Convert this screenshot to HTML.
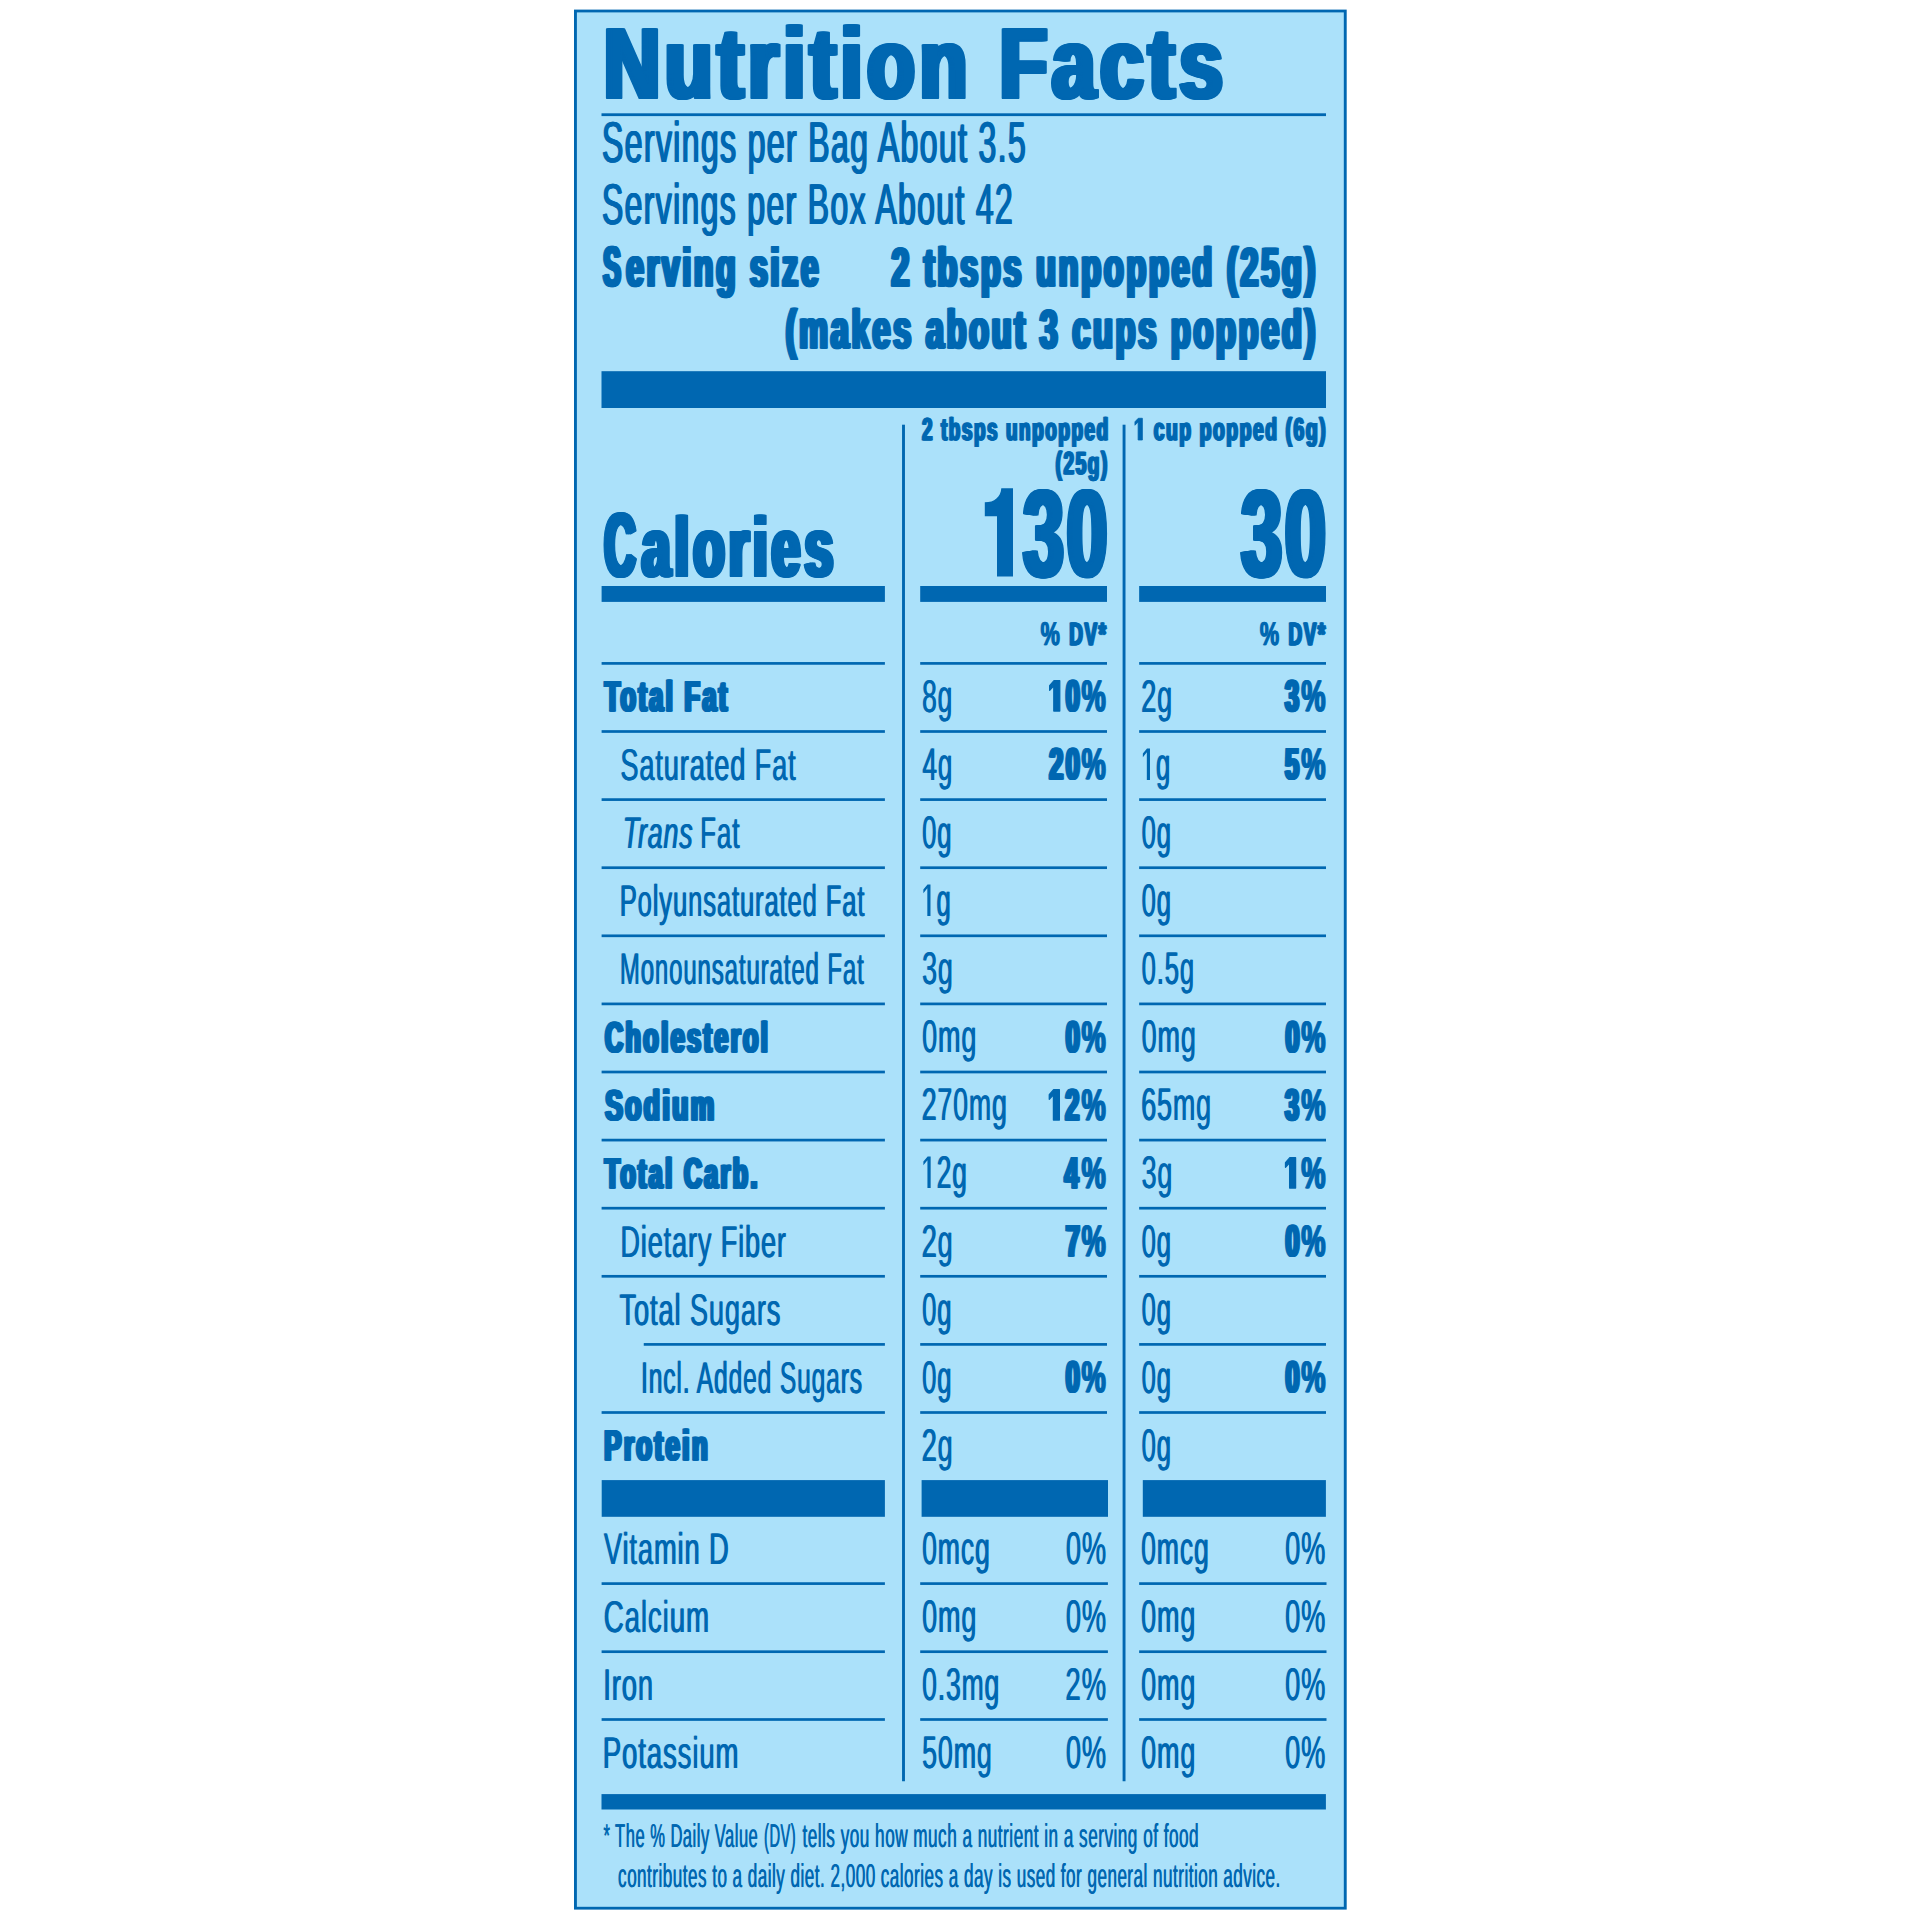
<!DOCTYPE html>
<html><head><meta charset="utf-8"><title>Nutrition Facts</title>
<style>
html,body{margin:0;padding:0;background:#fff;}
body{width:1920px;height:1920px;overflow:hidden;}
svg{display:block;}
text{font-family:"Liberation Sans",sans-serif;fill:#0067b1;white-space:pre;}
</style></head><body>
<svg width="1920" height="1920" viewBox="0 0 1920 1920" text-rendering="geometricPrecision">
<rect x="574.00" y="9.60" width="772.70" height="1900.00" fill="#0067b1"/>
<rect x="576.90" y="12.40" width="766.90" height="1894.40" fill="#abe1fa"/>
<rect x="601.50" y="113.30" width="724.50" height="2.80" fill="#0067b1"/>
<rect x="601.50" y="371.20" width="724.50" height="36.80" fill="#0067b1"/>
<rect x="601.60" y="586.00" width="283.30" height="15.90" fill="#0067b1"/>
<rect x="920.20" y="586.00" width="186.80" height="15.90" fill="#0067b1"/>
<rect x="1139.15" y="586.00" width="186.85" height="15.90" fill="#0067b1"/>
<rect x="601.70" y="1480.10" width="283.20" height="36.70" fill="#0067b1"/>
<rect x="921.60" y="1480.10" width="186.40" height="36.70" fill="#0067b1"/>
<rect x="1142.80" y="1480.10" width="183.10" height="36.70" fill="#0067b1"/>
<rect x="601.50" y="1794.10" width="724.40" height="15.40" fill="#0067b1"/>
<rect x="902.05" y="424.70" width="2.90" height="1356.55" fill="#0067b1"/>
<rect x="1122.60" y="424.70" width="2.90" height="1356.55" fill="#0067b1"/>
<rect x="601.60" y="662.05" width="283.30" height="2.70" fill="#0067b1"/>
<rect x="920.20" y="662.05" width="186.80" height="2.70" fill="#0067b1"/>
<rect x="1139.15" y="662.05" width="186.85" height="2.70" fill="#0067b1"/>
<rect x="601.60" y="730.15" width="283.30" height="2.70" fill="#0067b1"/>
<rect x="920.20" y="730.15" width="186.80" height="2.70" fill="#0067b1"/>
<rect x="1139.15" y="730.15" width="186.85" height="2.70" fill="#0067b1"/>
<rect x="601.60" y="798.25" width="283.30" height="2.70" fill="#0067b1"/>
<rect x="920.20" y="798.25" width="186.80" height="2.70" fill="#0067b1"/>
<rect x="1139.15" y="798.25" width="186.85" height="2.70" fill="#0067b1"/>
<rect x="601.60" y="866.35" width="283.30" height="2.70" fill="#0067b1"/>
<rect x="920.20" y="866.35" width="186.80" height="2.70" fill="#0067b1"/>
<rect x="1139.15" y="866.35" width="186.85" height="2.70" fill="#0067b1"/>
<rect x="601.60" y="934.45" width="283.30" height="2.70" fill="#0067b1"/>
<rect x="920.20" y="934.45" width="186.80" height="2.70" fill="#0067b1"/>
<rect x="1139.15" y="934.45" width="186.85" height="2.70" fill="#0067b1"/>
<rect x="601.60" y="1002.55" width="283.30" height="2.70" fill="#0067b1"/>
<rect x="920.20" y="1002.55" width="186.80" height="2.70" fill="#0067b1"/>
<rect x="1139.15" y="1002.55" width="186.85" height="2.70" fill="#0067b1"/>
<rect x="601.60" y="1070.65" width="283.30" height="2.70" fill="#0067b1"/>
<rect x="920.20" y="1070.65" width="186.80" height="2.70" fill="#0067b1"/>
<rect x="1139.15" y="1070.65" width="186.85" height="2.70" fill="#0067b1"/>
<rect x="601.60" y="1138.75" width="283.30" height="2.70" fill="#0067b1"/>
<rect x="920.20" y="1138.75" width="186.80" height="2.70" fill="#0067b1"/>
<rect x="1139.15" y="1138.75" width="186.85" height="2.70" fill="#0067b1"/>
<rect x="601.60" y="1206.85" width="283.30" height="2.70" fill="#0067b1"/>
<rect x="920.20" y="1206.85" width="186.80" height="2.70" fill="#0067b1"/>
<rect x="1139.15" y="1206.85" width="186.85" height="2.70" fill="#0067b1"/>
<rect x="601.60" y="1274.95" width="283.30" height="2.70" fill="#0067b1"/>
<rect x="920.20" y="1274.95" width="186.80" height="2.70" fill="#0067b1"/>
<rect x="1139.15" y="1274.95" width="186.85" height="2.70" fill="#0067b1"/>
<rect x="643.75" y="1343.05" width="241.15" height="2.70" fill="#0067b1"/>
<rect x="920.20" y="1343.05" width="186.80" height="2.70" fill="#0067b1"/>
<rect x="1139.15" y="1343.05" width="186.85" height="2.70" fill="#0067b1"/>
<rect x="601.60" y="1411.15" width="283.30" height="2.70" fill="#0067b1"/>
<rect x="920.20" y="1411.15" width="186.80" height="2.70" fill="#0067b1"/>
<rect x="1139.15" y="1411.15" width="186.85" height="2.70" fill="#0067b1"/>
<rect x="601.60" y="1582.25" width="283.30" height="2.70" fill="#0067b1"/>
<rect x="920.20" y="1582.25" width="187.70" height="2.70" fill="#0067b1"/>
<rect x="1139.15" y="1582.25" width="187.35" height="2.70" fill="#0067b1"/>
<rect x="601.60" y="1650.35" width="283.30" height="2.70" fill="#0067b1"/>
<rect x="920.20" y="1650.35" width="187.70" height="2.70" fill="#0067b1"/>
<rect x="1139.15" y="1650.35" width="187.35" height="2.70" fill="#0067b1"/>
<rect x="601.60" y="1718.15" width="283.30" height="2.70" fill="#0067b1"/>
<rect x="920.20" y="1718.15" width="187.70" height="2.70" fill="#0067b1"/>
<rect x="1139.15" y="1718.15" width="187.35" height="2.70" fill="#0067b1"/>
<path fill="#0067b1" d="M1001.3,488.2 L1013,488.2 L1013,576.6 L997,576.6 L997,516.3 L984.8,516.3 L984.8,502.3 C994.5,502.3 1000.6,497 1001.3,488.2 Z"/>
<text transform="translate(601.53,98) scale(0.7759,1)" font-size="99.98" font-weight="bold" letter-spacing="6.444" stroke="#0067b1" stroke-width="2.0" stroke-linejoin="round">Nutrition</text>
<text transform="translate(602.53,98) scale(0.7759,1)" font-size="99.98" font-weight="bold" letter-spacing="6.444" stroke="#0067b1" stroke-width="2.0" stroke-linejoin="round">Nutrition</text>
<text transform="translate(603.53,98) scale(0.7759,1)" font-size="99.98" font-weight="bold" letter-spacing="6.444" stroke="#0067b1" stroke-width="2.0" stroke-linejoin="round">Nutrition</text>
<text transform="translate(604.53,98) scale(0.7759,1)" font-size="99.98" font-weight="bold" letter-spacing="6.444" stroke="#0067b1" stroke-width="2.0" stroke-linejoin="round">Nutrition</text>
<text transform="translate(605.53,98) scale(0.7759,1)" font-size="99.98" font-weight="bold" letter-spacing="6.444" stroke="#0067b1" stroke-width="2.0" stroke-linejoin="round">Nutrition</text>
<text transform="translate(606.53,98) scale(0.7759,1)" font-size="99.98" font-weight="bold" letter-spacing="6.444" stroke="#0067b1" stroke-width="2.0" stroke-linejoin="round">Nutrition</text>
<text transform="translate(997.17,98) scale(0.7770,1)" font-size="99.98" font-weight="bold" letter-spacing="6.435" stroke="#0067b1" stroke-width="2.0" stroke-linejoin="round">Facts</text>
<text transform="translate(998.17,98) scale(0.7770,1)" font-size="99.98" font-weight="bold" letter-spacing="6.435" stroke="#0067b1" stroke-width="2.0" stroke-linejoin="round">Facts</text>
<text transform="translate(999.17,98) scale(0.7770,1)" font-size="99.98" font-weight="bold" letter-spacing="6.435" stroke="#0067b1" stroke-width="2.0" stroke-linejoin="round">Facts</text>
<text transform="translate(1000.17,98) scale(0.7770,1)" font-size="99.98" font-weight="bold" letter-spacing="6.435" stroke="#0067b1" stroke-width="2.0" stroke-linejoin="round">Facts</text>
<text transform="translate(1001.17,98) scale(0.7770,1)" font-size="99.98" font-weight="bold" letter-spacing="6.435" stroke="#0067b1" stroke-width="2.0" stroke-linejoin="round">Facts</text>
<text transform="translate(1002.17,98) scale(0.7770,1)" font-size="99.98" font-weight="bold" letter-spacing="6.435" stroke="#0067b1" stroke-width="2.0" stroke-linejoin="round">Facts</text>
<text transform="translate(601.25,162) scale(0.5595,1)" font-size="57.46" font-weight="normal" letter-spacing="2.323" stroke="#0067b1" stroke-width="0.2" stroke-linejoin="round">Servings per Bag About 3.5</text>
<text transform="translate(601.90,162) scale(0.5595,1)" font-size="57.46" font-weight="normal" letter-spacing="2.323" stroke="#0067b1" stroke-width="0.2" stroke-linejoin="round">Servings per Bag About 3.5</text>
<text transform="translate(602.55,162) scale(0.5595,1)" font-size="57.46" font-weight="normal" letter-spacing="2.323" stroke="#0067b1" stroke-width="0.2" stroke-linejoin="round">Servings per Bag About 3.5</text>
<text transform="translate(601.25,224) scale(0.5581,1)" font-size="57.46" font-weight="normal" letter-spacing="2.329" stroke="#0067b1" stroke-width="0.2" stroke-linejoin="round">Servings per Box About 42</text>
<text transform="translate(601.90,224) scale(0.5581,1)" font-size="57.46" font-weight="normal" letter-spacing="2.329" stroke="#0067b1" stroke-width="0.2" stroke-linejoin="round">Servings per Box About 42</text>
<text transform="translate(602.55,224) scale(0.5581,1)" font-size="57.46" font-weight="normal" letter-spacing="2.329" stroke="#0067b1" stroke-width="0.2" stroke-linejoin="round">Servings per Box About 42</text>
<text transform="translate(601.81,286) scale(0.4677,1)" font-size="56.60" font-weight="bold" letter-spacing="5.987" stroke="#0067b1" stroke-width="1.4" stroke-linejoin="round">S</text>
<text transform="translate(602.75,286) scale(0.4677,1)" font-size="56.60" font-weight="bold" letter-spacing="5.987" stroke="#0067b1" stroke-width="1.4" stroke-linejoin="round">S</text>
<text transform="translate(603.68,286) scale(0.4677,1)" font-size="56.60" font-weight="bold" letter-spacing="5.987" stroke="#0067b1" stroke-width="1.4" stroke-linejoin="round">S</text>
<text transform="translate(604.61,286) scale(0.4677,1)" font-size="56.60" font-weight="bold" letter-spacing="5.987" stroke="#0067b1" stroke-width="1.4" stroke-linejoin="round">S</text>
<text transform="translate(624.82,286) scale(0.5849,1)" font-size="54.33" font-weight="bold" letter-spacing="4.787" stroke="#0067b1" stroke-width="1.4" stroke-linejoin="round">erving size</text>
<text transform="translate(625.75,286) scale(0.5849,1)" font-size="54.33" font-weight="bold" letter-spacing="4.787" stroke="#0067b1" stroke-width="1.4" stroke-linejoin="round">erving size</text>
<text transform="translate(626.68,286) scale(0.5849,1)" font-size="54.33" font-weight="bold" letter-spacing="4.787" stroke="#0067b1" stroke-width="1.4" stroke-linejoin="round">erving size</text>
<text transform="translate(627.62,286) scale(0.5849,1)" font-size="54.33" font-weight="bold" letter-spacing="4.787" stroke="#0067b1" stroke-width="1.4" stroke-linejoin="round">erving size</text>
<text transform="translate(889.90,286) scale(0.5946,1)" font-size="54.47" font-weight="bold" letter-spacing="4.709" stroke="#0067b1" stroke-width="1.4" stroke-linejoin="round">2 tbsps unpopped (25g)</text>
<text transform="translate(890.84,286) scale(0.5946,1)" font-size="54.47" font-weight="bold" letter-spacing="4.709" stroke="#0067b1" stroke-width="1.4" stroke-linejoin="round">2 tbsps unpopped (25g)</text>
<text transform="translate(891.77,286) scale(0.5946,1)" font-size="54.47" font-weight="bold" letter-spacing="4.709" stroke="#0067b1" stroke-width="1.4" stroke-linejoin="round">2 tbsps unpopped (25g)</text>
<text transform="translate(892.70,286) scale(0.5946,1)" font-size="54.47" font-weight="bold" letter-spacing="4.709" stroke="#0067b1" stroke-width="1.4" stroke-linejoin="round">2 tbsps unpopped (25g)</text>
<text transform="translate(784.20,348) scale(0.5944,1)" font-size="54.47" font-weight="bold" letter-spacing="4.711" stroke="#0067b1" stroke-width="1.4" stroke-linejoin="round">(makes about 3 cups popped)</text>
<text transform="translate(785.13,348) scale(0.5944,1)" font-size="54.47" font-weight="bold" letter-spacing="4.711" stroke="#0067b1" stroke-width="1.4" stroke-linejoin="round">(makes about 3 cups popped)</text>
<text transform="translate(786.07,348) scale(0.5944,1)" font-size="54.47" font-weight="bold" letter-spacing="4.711" stroke="#0067b1" stroke-width="1.4" stroke-linejoin="round">(makes about 3 cups popped)</text>
<text transform="translate(787.00,348) scale(0.5944,1)" font-size="54.47" font-weight="bold" letter-spacing="4.711" stroke="#0067b1" stroke-width="1.4" stroke-linejoin="round">(makes about 3 cups popped)</text>
<text transform="translate(921.25,440) scale(0.5963,1)" font-size="31.57" font-weight="bold" letter-spacing="2.683" stroke="#0067b1" stroke-width="0.8" stroke-linejoin="round">2 tbsps unpopped</text>
<text transform="translate(922.05,440) scale(0.5963,1)" font-size="31.57" font-weight="bold" letter-spacing="2.683" stroke="#0067b1" stroke-width="0.8" stroke-linejoin="round">2 tbsps unpopped</text>
<text transform="translate(922.85,440) scale(0.5963,1)" font-size="31.57" font-weight="bold" letter-spacing="2.683" stroke="#0067b1" stroke-width="0.8" stroke-linejoin="round">2 tbsps unpopped</text>
<text transform="translate(1054.75,474) scale(0.5965,1)" font-size="31.86" font-weight="bold" letter-spacing="2.682" stroke="#0067b1" stroke-width="0.8" stroke-linejoin="round">(25g)</text>
<text transform="translate(1055.55,474) scale(0.5965,1)" font-size="31.86" font-weight="bold" letter-spacing="2.682" stroke="#0067b1" stroke-width="0.8" stroke-linejoin="round">(25g)</text>
<text transform="translate(1056.35,474) scale(0.5965,1)" font-size="31.86" font-weight="bold" letter-spacing="2.682" stroke="#0067b1" stroke-width="0.8" stroke-linejoin="round">(25g)</text>
<polygon points="1138.13,440.00 1138.13,421.96 1134.96,425.22 1134.96,421.81 1138.27,418.28 1142.37,418.28 1142.37,440.00" fill="#0067b1" stroke="#0067b1" stroke-width="0.8" stroke-linejoin="round"/>
<text transform="translate(1145.94,440) scale(0.6091,1)" font-size="31.57" font-weight="bold" letter-spacing="2.627" stroke="#0067b1" stroke-width="0.8" stroke-linejoin="round"> cup popped (6g)</text>
<text transform="translate(1146.74,440) scale(0.6091,1)" font-size="31.57" font-weight="bold" letter-spacing="2.627" stroke="#0067b1" stroke-width="0.8" stroke-linejoin="round"> cup popped (6g)</text>
<text transform="translate(1147.54,440) scale(0.6091,1)" font-size="31.57" font-weight="bold" letter-spacing="2.627" stroke="#0067b1" stroke-width="0.8" stroke-linejoin="round"> cup popped (6g)</text>
<text transform="translate(602.34,576) scale(0.4760,1)" font-size="89.88" font-weight="bold" letter-spacing="9.453" stroke="#0067b1" stroke-width="2.0" stroke-linejoin="round">C</text>
<text transform="translate(603.24,576) scale(0.4760,1)" font-size="89.88" font-weight="bold" letter-spacing="9.453" stroke="#0067b1" stroke-width="2.0" stroke-linejoin="round">C</text>
<text transform="translate(604.14,576) scale(0.4760,1)" font-size="89.88" font-weight="bold" letter-spacing="9.453" stroke="#0067b1" stroke-width="2.0" stroke-linejoin="round">C</text>
<text transform="translate(605.04,576) scale(0.4760,1)" font-size="89.88" font-weight="bold" letter-spacing="9.453" stroke="#0067b1" stroke-width="2.0" stroke-linejoin="round">C</text>
<text transform="translate(605.94,576) scale(0.4760,1)" font-size="89.88" font-weight="bold" letter-spacing="9.453" stroke="#0067b1" stroke-width="2.0" stroke-linejoin="round">C</text>
<text transform="translate(606.84,576) scale(0.4760,1)" font-size="89.88" font-weight="bold" letter-spacing="9.453" stroke="#0067b1" stroke-width="2.0" stroke-linejoin="round">C</text>
<text transform="translate(639.72,576) scale(0.6103,1)" font-size="83.34" font-weight="bold" letter-spacing="7.374" stroke="#0067b1" stroke-width="2.0" stroke-linejoin="round">alories</text>
<text transform="translate(640.62,576) scale(0.6103,1)" font-size="83.34" font-weight="bold" letter-spacing="7.374" stroke="#0067b1" stroke-width="2.0" stroke-linejoin="round">alories</text>
<text transform="translate(641.52,576) scale(0.6103,1)" font-size="83.34" font-weight="bold" letter-spacing="7.374" stroke="#0067b1" stroke-width="2.0" stroke-linejoin="round">alories</text>
<text transform="translate(642.42,576) scale(0.6103,1)" font-size="83.34" font-weight="bold" letter-spacing="7.374" stroke="#0067b1" stroke-width="2.0" stroke-linejoin="round">alories</text>
<text transform="translate(643.32,576) scale(0.6103,1)" font-size="83.34" font-weight="bold" letter-spacing="7.374" stroke="#0067b1" stroke-width="2.0" stroke-linejoin="round">alories</text>
<text transform="translate(644.22,576) scale(0.6103,1)" font-size="83.34" font-weight="bold" letter-spacing="7.374" stroke="#0067b1" stroke-width="2.0" stroke-linejoin="round">alories</text>
<text transform="translate(1020.95,576) scale(0.5905,1)" font-size="123.16" font-weight="bold" letter-spacing="5.080" stroke="#0067b1" stroke-width="2.0" stroke-linejoin="round">30</text>
<text transform="translate(1021.85,576) scale(0.5905,1)" font-size="123.16" font-weight="bold" letter-spacing="5.080" stroke="#0067b1" stroke-width="2.0" stroke-linejoin="round">30</text>
<text transform="translate(1022.75,576) scale(0.5905,1)" font-size="123.16" font-weight="bold" letter-spacing="5.080" stroke="#0067b1" stroke-width="2.0" stroke-linejoin="round">30</text>
<text transform="translate(1023.65,576) scale(0.5905,1)" font-size="123.16" font-weight="bold" letter-spacing="5.080" stroke="#0067b1" stroke-width="2.0" stroke-linejoin="round">30</text>
<text transform="translate(1024.55,576) scale(0.5905,1)" font-size="123.16" font-weight="bold" letter-spacing="5.080" stroke="#0067b1" stroke-width="2.0" stroke-linejoin="round">30</text>
<text transform="translate(1025.45,576) scale(0.5905,1)" font-size="123.16" font-weight="bold" letter-spacing="5.080" stroke="#0067b1" stroke-width="2.0" stroke-linejoin="round">30</text>
<text transform="translate(1238.95,576) scale(0.5951,1)" font-size="123.16" font-weight="bold" letter-spacing="5.041" stroke="#0067b1" stroke-width="2.0" stroke-linejoin="round">30</text>
<text transform="translate(1239.85,576) scale(0.5951,1)" font-size="123.16" font-weight="bold" letter-spacing="5.041" stroke="#0067b1" stroke-width="2.0" stroke-linejoin="round">30</text>
<text transform="translate(1240.75,576) scale(0.5951,1)" font-size="123.16" font-weight="bold" letter-spacing="5.041" stroke="#0067b1" stroke-width="2.0" stroke-linejoin="round">30</text>
<text transform="translate(1241.65,576) scale(0.5951,1)" font-size="123.16" font-weight="bold" letter-spacing="5.041" stroke="#0067b1" stroke-width="2.0" stroke-linejoin="round">30</text>
<text transform="translate(1242.55,576) scale(0.5951,1)" font-size="123.16" font-weight="bold" letter-spacing="5.041" stroke="#0067b1" stroke-width="2.0" stroke-linejoin="round">30</text>
<text transform="translate(1243.45,576) scale(0.5951,1)" font-size="123.16" font-weight="bold" letter-spacing="5.041" stroke="#0067b1" stroke-width="2.0" stroke-linejoin="round">30</text>
<text transform="translate(1040.33,645) scale(0.6522,1)" font-size="33.14" font-weight="bold" letter-spacing="0.000" stroke="#0067b1" stroke-width="0.5" stroke-linejoin="round">%</text>
<text transform="translate(1040.93,645) scale(0.6522,1)" font-size="33.14" font-weight="bold" letter-spacing="0.000" stroke="#0067b1" stroke-width="0.5" stroke-linejoin="round">%</text>
<text transform="translate(1068.45,645) scale(0.5850,1)" font-size="32.28" font-weight="bold" letter-spacing="2.735" stroke="#0067b1" stroke-width="0.8" stroke-linejoin="round">DV*</text>
<text transform="translate(1069.25,645) scale(0.5850,1)" font-size="32.28" font-weight="bold" letter-spacing="2.735" stroke="#0067b1" stroke-width="0.8" stroke-linejoin="round">DV*</text>
<text transform="translate(1070.05,645) scale(0.5850,1)" font-size="32.28" font-weight="bold" letter-spacing="2.735" stroke="#0067b1" stroke-width="0.8" stroke-linejoin="round">DV*</text>
<text transform="translate(1259.53,645) scale(0.6522,1)" font-size="33.14" font-weight="bold" letter-spacing="0.000" stroke="#0067b1" stroke-width="0.5" stroke-linejoin="round">%</text>
<text transform="translate(1260.13,645) scale(0.6522,1)" font-size="33.14" font-weight="bold" letter-spacing="0.000" stroke="#0067b1" stroke-width="0.5" stroke-linejoin="round">%</text>
<text transform="translate(1287.65,645) scale(0.5850,1)" font-size="32.28" font-weight="bold" letter-spacing="2.735" stroke="#0067b1" stroke-width="0.8" stroke-linejoin="round">DV*</text>
<text transform="translate(1288.45,645) scale(0.5850,1)" font-size="32.28" font-weight="bold" letter-spacing="2.735" stroke="#0067b1" stroke-width="0.8" stroke-linejoin="round">DV*</text>
<text transform="translate(1289.25,645) scale(0.5850,1)" font-size="32.28" font-weight="bold" letter-spacing="2.735" stroke="#0067b1" stroke-width="0.8" stroke-linejoin="round">DV*</text>
<text transform="translate(603.38,711) scale(0.5877,1)" font-size="42.67" font-weight="bold" letter-spacing="4.254" stroke="#0067b1" stroke-width="1.3" stroke-linejoin="round">Total Fat</text>
<text transform="translate(604.22,711) scale(0.5877,1)" font-size="42.67" font-weight="bold" letter-spacing="4.254" stroke="#0067b1" stroke-width="1.3" stroke-linejoin="round">Total Fat</text>
<text transform="translate(605.05,711) scale(0.5877,1)" font-size="42.67" font-weight="bold" letter-spacing="4.254" stroke="#0067b1" stroke-width="1.3" stroke-linejoin="round">Total Fat</text>
<text transform="translate(605.88,711) scale(0.5877,1)" font-size="42.67" font-weight="bold" letter-spacing="4.254" stroke="#0067b1" stroke-width="1.3" stroke-linejoin="round">Total Fat</text>
<text transform="translate(619.90,780) scale(0.6101,1)" font-size="44.52" font-weight="normal" letter-spacing="1.475">Saturated Fat</text>
<text transform="translate(620.80,780) scale(0.6101,1)" font-size="44.52" font-weight="normal" letter-spacing="1.475">Saturated Fat</text>
<text transform="translate(622.32,848) scale(0.5992,1)" font-size="44.52" font-weight="normal" letter-spacing="1.502" font-style="italic">Trans</text>
<text transform="translate(623.22,848) scale(0.5992,1)" font-size="44.52" font-weight="normal" letter-spacing="1.502" font-style="italic">Trans</text>
<text transform="translate(699.72,848) scale(0.5829,1)" font-size="44.52" font-weight="normal" letter-spacing="1.544">Fat</text>
<text transform="translate(700.62,848) scale(0.5829,1)" font-size="44.52" font-weight="normal" letter-spacing="1.544">Fat</text>
<text transform="translate(619.25,916) scale(0.5737,1)" font-size="44.52" font-weight="normal" letter-spacing="1.569">Polyunsaturated Fat</text>
<text transform="translate(620.15,916) scale(0.5737,1)" font-size="44.52" font-weight="normal" letter-spacing="1.569">Polyunsaturated Fat</text>
<text transform="translate(619.38,984) scale(0.5381,1)" font-size="44.52" font-weight="normal" letter-spacing="1.673">Monounsaturated Fat</text>
<text transform="translate(620.28,984) scale(0.5381,1)" font-size="44.52" font-weight="normal" letter-spacing="1.673">Monounsaturated Fat</text>
<text transform="translate(603.70,1052) scale(0.5875,1)" font-size="42.67" font-weight="bold" letter-spacing="4.255" stroke="#0067b1" stroke-width="1.3" stroke-linejoin="round">Cholesterol</text>
<text transform="translate(604.53,1052) scale(0.5875,1)" font-size="42.67" font-weight="bold" letter-spacing="4.255" stroke="#0067b1" stroke-width="1.3" stroke-linejoin="round">Cholesterol</text>
<text transform="translate(605.37,1052) scale(0.5875,1)" font-size="42.67" font-weight="bold" letter-spacing="4.255" stroke="#0067b1" stroke-width="1.3" stroke-linejoin="round">Cholesterol</text>
<text transform="translate(606.20,1052) scale(0.5875,1)" font-size="42.67" font-weight="bold" letter-spacing="4.255" stroke="#0067b1" stroke-width="1.3" stroke-linejoin="round">Cholesterol</text>
<text transform="translate(603.99,1120) scale(0.6166,1)" font-size="42.67" font-weight="bold" letter-spacing="4.054" stroke="#0067b1" stroke-width="1.3" stroke-linejoin="round">Sodium</text>
<text transform="translate(604.82,1120) scale(0.6166,1)" font-size="42.67" font-weight="bold" letter-spacing="4.054" stroke="#0067b1" stroke-width="1.3" stroke-linejoin="round">Sodium</text>
<text transform="translate(605.66,1120) scale(0.6166,1)" font-size="42.67" font-weight="bold" letter-spacing="4.054" stroke="#0067b1" stroke-width="1.3" stroke-linejoin="round">Sodium</text>
<text transform="translate(606.49,1120) scale(0.6166,1)" font-size="42.67" font-weight="bold" letter-spacing="4.054" stroke="#0067b1" stroke-width="1.3" stroke-linejoin="round">Sodium</text>
<text transform="translate(603.38,1188) scale(0.5814,1)" font-size="42.67" font-weight="bold" letter-spacing="4.300" stroke="#0067b1" stroke-width="1.3" stroke-linejoin="round">Total Carb.</text>
<text transform="translate(604.21,1188) scale(0.5814,1)" font-size="42.67" font-weight="bold" letter-spacing="4.300" stroke="#0067b1" stroke-width="1.3" stroke-linejoin="round">Total Carb.</text>
<text transform="translate(605.04,1188) scale(0.5814,1)" font-size="42.67" font-weight="bold" letter-spacing="4.300" stroke="#0067b1" stroke-width="1.3" stroke-linejoin="round">Total Carb.</text>
<text transform="translate(605.88,1188) scale(0.5814,1)" font-size="42.67" font-weight="bold" letter-spacing="4.300" stroke="#0067b1" stroke-width="1.3" stroke-linejoin="round">Total Carb.</text>
<text transform="translate(619.89,1257) scale(0.6075,1)" font-size="44.52" font-weight="normal" letter-spacing="1.481">Dietary Fiber</text>
<text transform="translate(620.79,1257) scale(0.6075,1)" font-size="44.52" font-weight="normal" letter-spacing="1.481">Dietary Fiber</text>
<text transform="translate(619.08,1325) scale(0.6101,1)" font-size="44.52" font-weight="normal" letter-spacing="1.475">Total Sugars</text>
<text transform="translate(619.98,1325) scale(0.6101,1)" font-size="44.52" font-weight="normal" letter-spacing="1.475">Total Sugars</text>
<text transform="translate(640.59,1393) scale(0.5503,1)" font-size="44.52" font-weight="normal" letter-spacing="1.636">Incl. Added Sugars</text>
<text transform="translate(641.49,1393) scale(0.5503,1)" font-size="44.52" font-weight="normal" letter-spacing="1.636">Incl. Added Sugars</text>
<text transform="translate(603.04,1460) scale(0.6008,1)" font-size="42.67" font-weight="bold" letter-spacing="4.161" stroke="#0067b1" stroke-width="1.3" stroke-linejoin="round">Protein</text>
<text transform="translate(603.87,1460) scale(0.6008,1)" font-size="42.67" font-weight="bold" letter-spacing="4.161" stroke="#0067b1" stroke-width="1.3" stroke-linejoin="round">Protein</text>
<text transform="translate(604.70,1460) scale(0.6008,1)" font-size="42.67" font-weight="bold" letter-spacing="4.161" stroke="#0067b1" stroke-width="1.3" stroke-linejoin="round">Protein</text>
<text transform="translate(605.54,1460) scale(0.6008,1)" font-size="42.67" font-weight="bold" letter-spacing="4.161" stroke="#0067b1" stroke-width="1.3" stroke-linejoin="round">Protein</text>
<text transform="translate(603.40,1564) scale(0.6125,1)" font-size="44.52" font-weight="normal" letter-spacing="1.469">Vitamin D</text>
<text transform="translate(604.30,1564) scale(0.6125,1)" font-size="44.52" font-weight="normal" letter-spacing="1.469">Vitamin D</text>
<text transform="translate(603.30,1632) scale(0.6209,1)" font-size="44.52" font-weight="normal" letter-spacing="1.450">Calcium</text>
<text transform="translate(604.20,1632) scale(0.6209,1)" font-size="44.52" font-weight="normal" letter-spacing="1.450">Calcium</text>
<text transform="translate(602.87,1700) scale(0.6136,1)" font-size="44.52" font-weight="normal" letter-spacing="1.467">Iron</text>
<text transform="translate(603.77,1700) scale(0.6136,1)" font-size="44.52" font-weight="normal" letter-spacing="1.467">Iron</text>
<text transform="translate(602.35,1768) scale(0.6182,1)" font-size="44.52" font-weight="normal" letter-spacing="1.456">Potassium</text>
<text transform="translate(603.25,1768) scale(0.6182,1)" font-size="44.52" font-weight="normal" letter-spacing="1.456">Potassium</text>
<text transform="translate(603.14,1847) scale(0.4987,1)" font-size="33.14" font-weight="normal" letter-spacing="1.003">* The % Daily Value</text>
<text transform="translate(603.64,1847) scale(0.4987,1)" font-size="33.14" font-weight="normal" letter-spacing="1.003">* The % Daily Value</text>
<text transform="translate(763.81,1847) scale(0.4427,1)" font-size="33.14" font-weight="normal" letter-spacing="1.130">(DV)</text>
<text transform="translate(764.31,1847) scale(0.4427,1)" font-size="33.14" font-weight="normal" letter-spacing="1.130">(DV)</text>
<text transform="translate(802.20,1847) scale(0.5175,1)" font-size="33.14" font-weight="normal" letter-spacing="0.966">tells you how much a nutrient in a serving of food</text>
<text transform="translate(802.70,1847) scale(0.5175,1)" font-size="33.14" font-weight="normal" letter-spacing="0.966">tells you how much a nutrient in a serving of food</text>
<text transform="translate(617.87,1887) scale(0.5142,1)" font-size="33.14" font-weight="normal" letter-spacing="0.972">contributes to a daily diet. 2,000 calories a day is used for general nutrition advice.</text>
<text transform="translate(618.37,1887) scale(0.5142,1)" font-size="33.14" font-weight="normal" letter-spacing="0.972">contributes to a daily diet. 2,000 calories a day is used for general nutrition advice.</text>
<text transform="translate(921.68,712) scale(0.5724,1)" font-size="45.94" font-weight="normal" letter-spacing="1.572">8g</text>
<text transform="translate(922.58,712) scale(0.5724,1)" font-size="45.94" font-weight="normal" letter-spacing="1.572">8g</text>
<text transform="translate(1140.74,712) scale(0.5867,1)" font-size="45.94" font-weight="normal" letter-spacing="1.534">2g</text>
<text transform="translate(1141.64,712) scale(0.5867,1)" font-size="45.94" font-weight="normal" letter-spacing="1.534">2g</text>
<text transform="translate(1081.10,711) scale(0.6187,1)" font-size="44.09" font-weight="bold" letter-spacing="0.000" stroke="#0067b1" stroke-width="0.9" stroke-linejoin="round">%</text>
<text transform="translate(1082.10,711) scale(0.6187,1)" font-size="44.09" font-weight="bold" letter-spacing="0.000" stroke="#0067b1" stroke-width="0.9" stroke-linejoin="round">%</text>
<polygon points="1053.81,711.00 1053.81,685.81 1049.66,690.35 1049.66,685.60 1053.99,680.67 1059.76,680.67 1059.76,711.00" fill="#0067b1" stroke="#0067b1" stroke-width="1.3" stroke-linejoin="round"/>
<text transform="translate(1064.42,711) scale(0.5700,1)" font-size="44.09" font-weight="bold" letter-spacing="4.386" stroke="#0067b1" stroke-width="1.3" stroke-linejoin="round">0</text>
<text transform="translate(1065.25,711) scale(0.5700,1)" font-size="44.09" font-weight="bold" letter-spacing="4.386" stroke="#0067b1" stroke-width="1.3" stroke-linejoin="round">0</text>
<text transform="translate(1066.09,711) scale(0.5700,1)" font-size="44.09" font-weight="bold" letter-spacing="4.386" stroke="#0067b1" stroke-width="1.3" stroke-linejoin="round">0</text>
<text transform="translate(1066.92,711) scale(0.5700,1)" font-size="44.09" font-weight="bold" letter-spacing="4.386" stroke="#0067b1" stroke-width="1.3" stroke-linejoin="round">0</text>
<text transform="translate(1300.85,711) scale(0.6187,1)" font-size="44.09" font-weight="bold" letter-spacing="0.000" stroke="#0067b1" stroke-width="0.9" stroke-linejoin="round">%</text>
<text transform="translate(1301.85,711) scale(0.6187,1)" font-size="44.09" font-weight="bold" letter-spacing="0.000" stroke="#0067b1" stroke-width="0.9" stroke-linejoin="round">%</text>
<text transform="translate(1283.78,711) scale(0.5700,1)" font-size="44.09" font-weight="bold" letter-spacing="4.386" stroke="#0067b1" stroke-width="1.3" stroke-linejoin="round">3</text>
<text transform="translate(1284.61,711) scale(0.5700,1)" font-size="44.09" font-weight="bold" letter-spacing="4.386" stroke="#0067b1" stroke-width="1.3" stroke-linejoin="round">3</text>
<text transform="translate(1285.44,711) scale(0.5700,1)" font-size="44.09" font-weight="bold" letter-spacing="4.386" stroke="#0067b1" stroke-width="1.3" stroke-linejoin="round">3</text>
<text transform="translate(1286.28,711) scale(0.5700,1)" font-size="44.09" font-weight="bold" letter-spacing="4.386" stroke="#0067b1" stroke-width="1.3" stroke-linejoin="round">3</text>
<text transform="translate(922.10,780) scale(0.5638,1)" font-size="45.94" font-weight="normal" letter-spacing="1.596">4g</text>
<text transform="translate(923.00,780) scale(0.5638,1)" font-size="45.94" font-weight="normal" letter-spacing="1.596">4g</text>
<polygon points="1146.83,780.00 1146.83,752.25 1142.86,757.35 1142.86,753.53 1147.01,748.40 1149.98,748.40 1149.98,780.00" fill="#0067b1"/>
<text transform="translate(1155.51,780) scale(0.5559,1)" font-size="45.94" font-weight="normal" letter-spacing="1.619">g</text>
<text transform="translate(1156.41,780) scale(0.5559,1)" font-size="45.94" font-weight="normal" letter-spacing="1.619">g</text>
<text transform="translate(1081.10,779) scale(0.6187,1)" font-size="44.09" font-weight="bold" letter-spacing="0.000" stroke="#0067b1" stroke-width="0.9" stroke-linejoin="round">%</text>
<text transform="translate(1082.10,779) scale(0.6187,1)" font-size="44.09" font-weight="bold" letter-spacing="0.000" stroke="#0067b1" stroke-width="0.9" stroke-linejoin="round">%</text>
<text transform="translate(1047.94,779) scale(0.5700,1)" font-size="44.09" font-weight="bold" letter-spacing="4.386" stroke="#0067b1" stroke-width="1.3" stroke-linejoin="round">20</text>
<text transform="translate(1048.78,779) scale(0.5700,1)" font-size="44.09" font-weight="bold" letter-spacing="4.386" stroke="#0067b1" stroke-width="1.3" stroke-linejoin="round">20</text>
<text transform="translate(1049.61,779) scale(0.5700,1)" font-size="44.09" font-weight="bold" letter-spacing="4.386" stroke="#0067b1" stroke-width="1.3" stroke-linejoin="round">20</text>
<text transform="translate(1050.44,779) scale(0.5700,1)" font-size="44.09" font-weight="bold" letter-spacing="4.386" stroke="#0067b1" stroke-width="1.3" stroke-linejoin="round">20</text>
<text transform="translate(1300.85,779) scale(0.6187,1)" font-size="44.09" font-weight="bold" letter-spacing="0.000" stroke="#0067b1" stroke-width="0.9" stroke-linejoin="round">%</text>
<text transform="translate(1301.85,779) scale(0.6187,1)" font-size="44.09" font-weight="bold" letter-spacing="0.000" stroke="#0067b1" stroke-width="0.9" stroke-linejoin="round">%</text>
<text transform="translate(1283.78,779) scale(0.5700,1)" font-size="44.09" font-weight="bold" letter-spacing="4.386" stroke="#0067b1" stroke-width="1.3" stroke-linejoin="round">5</text>
<text transform="translate(1284.61,779) scale(0.5700,1)" font-size="44.09" font-weight="bold" letter-spacing="4.386" stroke="#0067b1" stroke-width="1.3" stroke-linejoin="round">5</text>
<text transform="translate(1285.44,779) scale(0.5700,1)" font-size="44.09" font-weight="bold" letter-spacing="4.386" stroke="#0067b1" stroke-width="1.3" stroke-linejoin="round">5</text>
<text transform="translate(1286.28,779) scale(0.5700,1)" font-size="44.09" font-weight="bold" letter-spacing="4.386" stroke="#0067b1" stroke-width="1.3" stroke-linejoin="round">5</text>
<text transform="translate(921.70,848) scale(0.5559,1)" font-size="45.94" font-weight="normal" letter-spacing="1.619">0g</text>
<text transform="translate(922.60,848) scale(0.5559,1)" font-size="45.94" font-weight="normal" letter-spacing="1.619">0g</text>
<text transform="translate(1141.20,848) scale(0.5559,1)" font-size="45.94" font-weight="normal" letter-spacing="1.619">0g</text>
<text transform="translate(1142.10,848) scale(0.5559,1)" font-size="45.94" font-weight="normal" letter-spacing="1.619">0g</text>
<polygon points="927.33,916.00 927.33,888.25 923.36,893.35 923.36,889.53 927.51,884.40 930.48,884.40 930.48,916.00" fill="#0067b1"/>
<text transform="translate(936.01,916) scale(0.5559,1)" font-size="45.94" font-weight="normal" letter-spacing="1.619">g</text>
<text transform="translate(936.91,916) scale(0.5559,1)" font-size="45.94" font-weight="normal" letter-spacing="1.619">g</text>
<text transform="translate(1141.20,916) scale(0.5559,1)" font-size="45.94" font-weight="normal" letter-spacing="1.619">0g</text>
<text transform="translate(1142.10,916) scale(0.5559,1)" font-size="45.94" font-weight="normal" letter-spacing="1.619">0g</text>
<text transform="translate(921.66,984) scale(0.5830,1)" font-size="45.94" font-weight="normal" letter-spacing="1.544">3g</text>
<text transform="translate(922.56,984) scale(0.5830,1)" font-size="45.94" font-weight="normal" letter-spacing="1.544">3g</text>
<text transform="translate(1141.20,984) scale(0.5559,1)" font-size="45.94" font-weight="normal" letter-spacing="1.619">0.5g</text>
<text transform="translate(1142.10,984) scale(0.5559,1)" font-size="45.94" font-weight="normal" letter-spacing="1.619">0.5g</text>
<text transform="translate(921.66,1052) scale(0.5864,1)" font-size="45.94" font-weight="normal" letter-spacing="1.535">0mg</text>
<text transform="translate(922.56,1052) scale(0.5864,1)" font-size="45.94" font-weight="normal" letter-spacing="1.535">0mg</text>
<text transform="translate(1141.16,1052) scale(0.5864,1)" font-size="45.94" font-weight="normal" letter-spacing="1.535">0mg</text>
<text transform="translate(1142.06,1052) scale(0.5864,1)" font-size="45.94" font-weight="normal" letter-spacing="1.535">0mg</text>
<text transform="translate(1081.10,1052) scale(0.6187,1)" font-size="44.09" font-weight="bold" letter-spacing="0.000" stroke="#0067b1" stroke-width="0.9" stroke-linejoin="round">%</text>
<text transform="translate(1082.10,1052) scale(0.6187,1)" font-size="44.09" font-weight="bold" letter-spacing="0.000" stroke="#0067b1" stroke-width="0.9" stroke-linejoin="round">%</text>
<text transform="translate(1064.42,1052) scale(0.5700,1)" font-size="44.09" font-weight="bold" letter-spacing="4.386" stroke="#0067b1" stroke-width="1.3" stroke-linejoin="round">0</text>
<text transform="translate(1065.25,1052) scale(0.5700,1)" font-size="44.09" font-weight="bold" letter-spacing="4.386" stroke="#0067b1" stroke-width="1.3" stroke-linejoin="round">0</text>
<text transform="translate(1066.09,1052) scale(0.5700,1)" font-size="44.09" font-weight="bold" letter-spacing="4.386" stroke="#0067b1" stroke-width="1.3" stroke-linejoin="round">0</text>
<text transform="translate(1066.92,1052) scale(0.5700,1)" font-size="44.09" font-weight="bold" letter-spacing="4.386" stroke="#0067b1" stroke-width="1.3" stroke-linejoin="round">0</text>
<text transform="translate(1300.85,1052) scale(0.6187,1)" font-size="44.09" font-weight="bold" letter-spacing="0.000" stroke="#0067b1" stroke-width="0.9" stroke-linejoin="round">%</text>
<text transform="translate(1301.85,1052) scale(0.6187,1)" font-size="44.09" font-weight="bold" letter-spacing="0.000" stroke="#0067b1" stroke-width="0.9" stroke-linejoin="round">%</text>
<text transform="translate(1284.17,1052) scale(0.5700,1)" font-size="44.09" font-weight="bold" letter-spacing="4.386" stroke="#0067b1" stroke-width="1.3" stroke-linejoin="round">0</text>
<text transform="translate(1285.00,1052) scale(0.5700,1)" font-size="44.09" font-weight="bold" letter-spacing="4.386" stroke="#0067b1" stroke-width="1.3" stroke-linejoin="round">0</text>
<text transform="translate(1285.84,1052) scale(0.5700,1)" font-size="44.09" font-weight="bold" letter-spacing="4.386" stroke="#0067b1" stroke-width="1.3" stroke-linejoin="round">0</text>
<text transform="translate(1286.67,1052) scale(0.5700,1)" font-size="44.09" font-weight="bold" letter-spacing="4.386" stroke="#0067b1" stroke-width="1.3" stroke-linejoin="round">0</text>
<text transform="translate(921.25,1120) scale(0.5802,1)" font-size="45.94" font-weight="normal" letter-spacing="1.551">270mg</text>
<text transform="translate(922.15,1120) scale(0.5802,1)" font-size="45.94" font-weight="normal" letter-spacing="1.551">270mg</text>
<text transform="translate(1140.74,1120) scale(0.5845,1)" font-size="45.94" font-weight="normal" letter-spacing="1.540">65mg</text>
<text transform="translate(1141.64,1120) scale(0.5845,1)" font-size="45.94" font-weight="normal" letter-spacing="1.540">65mg</text>
<text transform="translate(1081.10,1120) scale(0.6187,1)" font-size="44.09" font-weight="bold" letter-spacing="0.000" stroke="#0067b1" stroke-width="0.9" stroke-linejoin="round">%</text>
<text transform="translate(1082.10,1120) scale(0.6187,1)" font-size="44.09" font-weight="bold" letter-spacing="0.000" stroke="#0067b1" stroke-width="0.9" stroke-linejoin="round">%</text>
<polygon points="1053.42,1120.00 1053.42,1094.81 1049.27,1099.35 1049.27,1094.60 1053.60,1089.67 1059.36,1089.67 1059.36,1120.00" fill="#0067b1" stroke="#0067b1" stroke-width="1.3" stroke-linejoin="round"/>
<text transform="translate(1064.03,1120) scale(0.5700,1)" font-size="44.09" font-weight="bold" letter-spacing="4.386" stroke="#0067b1" stroke-width="1.3" stroke-linejoin="round">2</text>
<text transform="translate(1064.86,1120) scale(0.5700,1)" font-size="44.09" font-weight="bold" letter-spacing="4.386" stroke="#0067b1" stroke-width="1.3" stroke-linejoin="round">2</text>
<text transform="translate(1065.69,1120) scale(0.5700,1)" font-size="44.09" font-weight="bold" letter-spacing="4.386" stroke="#0067b1" stroke-width="1.3" stroke-linejoin="round">2</text>
<text transform="translate(1066.53,1120) scale(0.5700,1)" font-size="44.09" font-weight="bold" letter-spacing="4.386" stroke="#0067b1" stroke-width="1.3" stroke-linejoin="round">2</text>
<text transform="translate(1300.85,1120) scale(0.6187,1)" font-size="44.09" font-weight="bold" letter-spacing="0.000" stroke="#0067b1" stroke-width="0.9" stroke-linejoin="round">%</text>
<text transform="translate(1301.85,1120) scale(0.6187,1)" font-size="44.09" font-weight="bold" letter-spacing="0.000" stroke="#0067b1" stroke-width="0.9" stroke-linejoin="round">%</text>
<text transform="translate(1283.78,1120) scale(0.5700,1)" font-size="44.09" font-weight="bold" letter-spacing="4.386" stroke="#0067b1" stroke-width="1.3" stroke-linejoin="round">3</text>
<text transform="translate(1284.61,1120) scale(0.5700,1)" font-size="44.09" font-weight="bold" letter-spacing="4.386" stroke="#0067b1" stroke-width="1.3" stroke-linejoin="round">3</text>
<text transform="translate(1285.44,1120) scale(0.5700,1)" font-size="44.09" font-weight="bold" letter-spacing="4.386" stroke="#0067b1" stroke-width="1.3" stroke-linejoin="round">3</text>
<text transform="translate(1286.28,1120) scale(0.5700,1)" font-size="44.09" font-weight="bold" letter-spacing="4.386" stroke="#0067b1" stroke-width="1.3" stroke-linejoin="round">3</text>
<polygon points="927.44,1188.00 927.44,1160.25 923.38,1165.35 923.38,1161.53 927.64,1156.40 930.66,1156.40 930.66,1188.00" fill="#0067b1"/>
<text transform="translate(936.32,1188) scale(0.5696,1)" font-size="45.94" font-weight="normal" letter-spacing="1.580">2g</text>
<text transform="translate(937.22,1188) scale(0.5696,1)" font-size="45.94" font-weight="normal" letter-spacing="1.580">2g</text>
<text transform="translate(1141.16,1188) scale(0.5830,1)" font-size="45.94" font-weight="normal" letter-spacing="1.544">3g</text>
<text transform="translate(1142.06,1188) scale(0.5830,1)" font-size="45.94" font-weight="normal" letter-spacing="1.544">3g</text>
<text transform="translate(1081.10,1188) scale(0.6187,1)" font-size="44.09" font-weight="bold" letter-spacing="0.000" stroke="#0067b1" stroke-width="0.9" stroke-linejoin="round">%</text>
<text transform="translate(1082.10,1188) scale(0.6187,1)" font-size="44.09" font-weight="bold" letter-spacing="0.000" stroke="#0067b1" stroke-width="0.9" stroke-linejoin="round">%</text>
<text transform="translate(1063.24,1188) scale(0.5700,1)" font-size="44.09" font-weight="bold" letter-spacing="4.386" stroke="#0067b1" stroke-width="1.3" stroke-linejoin="round">4</text>
<text transform="translate(1064.08,1188) scale(0.5700,1)" font-size="44.09" font-weight="bold" letter-spacing="4.386" stroke="#0067b1" stroke-width="1.3" stroke-linejoin="round">4</text>
<text transform="translate(1064.91,1188) scale(0.5700,1)" font-size="44.09" font-weight="bold" letter-spacing="4.386" stroke="#0067b1" stroke-width="1.3" stroke-linejoin="round">4</text>
<text transform="translate(1065.74,1188) scale(0.5700,1)" font-size="44.09" font-weight="bold" letter-spacing="4.386" stroke="#0067b1" stroke-width="1.3" stroke-linejoin="round">4</text>
<text transform="translate(1300.85,1188) scale(0.6187,1)" font-size="44.09" font-weight="bold" letter-spacing="0.000" stroke="#0067b1" stroke-width="0.9" stroke-linejoin="round">%</text>
<text transform="translate(1301.85,1188) scale(0.6187,1)" font-size="44.09" font-weight="bold" letter-spacing="0.000" stroke="#0067b1" stroke-width="0.9" stroke-linejoin="round">%</text>
<polygon points="1289.64,1188.00 1289.64,1162.81 1285.50,1167.35 1285.50,1162.60 1289.83,1157.67 1295.59,1157.67 1295.59,1188.00" fill="#0067b1" stroke="#0067b1" stroke-width="1.3" stroke-linejoin="round"/>
<text transform="translate(921.24,1257) scale(0.5867,1)" font-size="45.94" font-weight="normal" letter-spacing="1.534">2g</text>
<text transform="translate(922.14,1257) scale(0.5867,1)" font-size="45.94" font-weight="normal" letter-spacing="1.534">2g</text>
<text transform="translate(1141.20,1257) scale(0.5559,1)" font-size="45.94" font-weight="normal" letter-spacing="1.619">0g</text>
<text transform="translate(1142.10,1257) scale(0.5559,1)" font-size="45.94" font-weight="normal" letter-spacing="1.619">0g</text>
<text transform="translate(1081.10,1256) scale(0.6187,1)" font-size="44.09" font-weight="bold" letter-spacing="0.000" stroke="#0067b1" stroke-width="0.9" stroke-linejoin="round">%</text>
<text transform="translate(1082.10,1256) scale(0.6187,1)" font-size="44.09" font-weight="bold" letter-spacing="0.000" stroke="#0067b1" stroke-width="0.9" stroke-linejoin="round">%</text>
<text transform="translate(1064.42,1256) scale(0.5700,1)" font-size="44.09" font-weight="bold" letter-spacing="4.386" stroke="#0067b1" stroke-width="1.3" stroke-linejoin="round">7</text>
<text transform="translate(1065.25,1256) scale(0.5700,1)" font-size="44.09" font-weight="bold" letter-spacing="4.386" stroke="#0067b1" stroke-width="1.3" stroke-linejoin="round">7</text>
<text transform="translate(1066.09,1256) scale(0.5700,1)" font-size="44.09" font-weight="bold" letter-spacing="4.386" stroke="#0067b1" stroke-width="1.3" stroke-linejoin="round">7</text>
<text transform="translate(1066.92,1256) scale(0.5700,1)" font-size="44.09" font-weight="bold" letter-spacing="4.386" stroke="#0067b1" stroke-width="1.3" stroke-linejoin="round">7</text>
<text transform="translate(1300.85,1256) scale(0.6187,1)" font-size="44.09" font-weight="bold" letter-spacing="0.000" stroke="#0067b1" stroke-width="0.9" stroke-linejoin="round">%</text>
<text transform="translate(1301.85,1256) scale(0.6187,1)" font-size="44.09" font-weight="bold" letter-spacing="0.000" stroke="#0067b1" stroke-width="0.9" stroke-linejoin="round">%</text>
<text transform="translate(1284.17,1256) scale(0.5700,1)" font-size="44.09" font-weight="bold" letter-spacing="4.386" stroke="#0067b1" stroke-width="1.3" stroke-linejoin="round">0</text>
<text transform="translate(1285.00,1256) scale(0.5700,1)" font-size="44.09" font-weight="bold" letter-spacing="4.386" stroke="#0067b1" stroke-width="1.3" stroke-linejoin="round">0</text>
<text transform="translate(1285.84,1256) scale(0.5700,1)" font-size="44.09" font-weight="bold" letter-spacing="4.386" stroke="#0067b1" stroke-width="1.3" stroke-linejoin="round">0</text>
<text transform="translate(1286.67,1256) scale(0.5700,1)" font-size="44.09" font-weight="bold" letter-spacing="4.386" stroke="#0067b1" stroke-width="1.3" stroke-linejoin="round">0</text>
<text transform="translate(921.70,1325) scale(0.5559,1)" font-size="45.94" font-weight="normal" letter-spacing="1.619">0g</text>
<text transform="translate(922.60,1325) scale(0.5559,1)" font-size="45.94" font-weight="normal" letter-spacing="1.619">0g</text>
<text transform="translate(1141.20,1325) scale(0.5559,1)" font-size="45.94" font-weight="normal" letter-spacing="1.619">0g</text>
<text transform="translate(1142.10,1325) scale(0.5559,1)" font-size="45.94" font-weight="normal" letter-spacing="1.619">0g</text>
<text transform="translate(921.70,1393) scale(0.5559,1)" font-size="45.94" font-weight="normal" letter-spacing="1.619">0g</text>
<text transform="translate(922.60,1393) scale(0.5559,1)" font-size="45.94" font-weight="normal" letter-spacing="1.619">0g</text>
<text transform="translate(1141.20,1393) scale(0.5559,1)" font-size="45.94" font-weight="normal" letter-spacing="1.619">0g</text>
<text transform="translate(1142.10,1393) scale(0.5559,1)" font-size="45.94" font-weight="normal" letter-spacing="1.619">0g</text>
<text transform="translate(1081.10,1392) scale(0.6187,1)" font-size="44.09" font-weight="bold" letter-spacing="0.000" stroke="#0067b1" stroke-width="0.9" stroke-linejoin="round">%</text>
<text transform="translate(1082.10,1392) scale(0.6187,1)" font-size="44.09" font-weight="bold" letter-spacing="0.000" stroke="#0067b1" stroke-width="0.9" stroke-linejoin="round">%</text>
<text transform="translate(1064.42,1392) scale(0.5700,1)" font-size="44.09" font-weight="bold" letter-spacing="4.386" stroke="#0067b1" stroke-width="1.3" stroke-linejoin="round">0</text>
<text transform="translate(1065.25,1392) scale(0.5700,1)" font-size="44.09" font-weight="bold" letter-spacing="4.386" stroke="#0067b1" stroke-width="1.3" stroke-linejoin="round">0</text>
<text transform="translate(1066.09,1392) scale(0.5700,1)" font-size="44.09" font-weight="bold" letter-spacing="4.386" stroke="#0067b1" stroke-width="1.3" stroke-linejoin="round">0</text>
<text transform="translate(1066.92,1392) scale(0.5700,1)" font-size="44.09" font-weight="bold" letter-spacing="4.386" stroke="#0067b1" stroke-width="1.3" stroke-linejoin="round">0</text>
<text transform="translate(1300.85,1392) scale(0.6187,1)" font-size="44.09" font-weight="bold" letter-spacing="0.000" stroke="#0067b1" stroke-width="0.9" stroke-linejoin="round">%</text>
<text transform="translate(1301.85,1392) scale(0.6187,1)" font-size="44.09" font-weight="bold" letter-spacing="0.000" stroke="#0067b1" stroke-width="0.9" stroke-linejoin="round">%</text>
<text transform="translate(1284.17,1392) scale(0.5700,1)" font-size="44.09" font-weight="bold" letter-spacing="4.386" stroke="#0067b1" stroke-width="1.3" stroke-linejoin="round">0</text>
<text transform="translate(1285.00,1392) scale(0.5700,1)" font-size="44.09" font-weight="bold" letter-spacing="4.386" stroke="#0067b1" stroke-width="1.3" stroke-linejoin="round">0</text>
<text transform="translate(1285.84,1392) scale(0.5700,1)" font-size="44.09" font-weight="bold" letter-spacing="4.386" stroke="#0067b1" stroke-width="1.3" stroke-linejoin="round">0</text>
<text transform="translate(1286.67,1392) scale(0.5700,1)" font-size="44.09" font-weight="bold" letter-spacing="4.386" stroke="#0067b1" stroke-width="1.3" stroke-linejoin="round">0</text>
<text transform="translate(921.24,1461) scale(0.5867,1)" font-size="45.94" font-weight="normal" letter-spacing="1.534">2g</text>
<text transform="translate(922.14,1461) scale(0.5867,1)" font-size="45.94" font-weight="normal" letter-spacing="1.534">2g</text>
<text transform="translate(1141.20,1461) scale(0.5559,1)" font-size="45.94" font-weight="normal" letter-spacing="1.619">0g</text>
<text transform="translate(1142.10,1461) scale(0.5559,1)" font-size="45.94" font-weight="normal" letter-spacing="1.619">0g</text>
<text transform="translate(921.67,1564) scale(0.5784,1)" font-size="45.94" font-weight="normal" letter-spacing="1.556">0mcg</text>
<text transform="translate(922.57,1564) scale(0.5784,1)" font-size="45.94" font-weight="normal" letter-spacing="1.556">0mcg</text>
<text transform="translate(1140.67,1564) scale(0.5784,1)" font-size="45.94" font-weight="normal" letter-spacing="1.556">0mcg</text>
<text transform="translate(1141.57,1564) scale(0.5784,1)" font-size="45.94" font-weight="normal" letter-spacing="1.556">0mcg</text>
<text transform="translate(1065.40,1564) scale(0.5929,1)" font-size="45.94" font-weight="normal" letter-spacing="1.518">0%</text>
<text transform="translate(1066.30,1564) scale(0.5929,1)" font-size="45.94" font-weight="normal" letter-spacing="1.518">0%</text>
<text transform="translate(1284.65,1564) scale(0.5929,1)" font-size="45.94" font-weight="normal" letter-spacing="1.518">0%</text>
<text transform="translate(1285.55,1564) scale(0.5929,1)" font-size="45.94" font-weight="normal" letter-spacing="1.518">0%</text>
<text transform="translate(921.66,1632) scale(0.5864,1)" font-size="45.94" font-weight="normal" letter-spacing="1.535">0mg</text>
<text transform="translate(922.56,1632) scale(0.5864,1)" font-size="45.94" font-weight="normal" letter-spacing="1.535">0mg</text>
<text transform="translate(1140.66,1632) scale(0.5864,1)" font-size="45.94" font-weight="normal" letter-spacing="1.535">0mg</text>
<text transform="translate(1141.56,1632) scale(0.5864,1)" font-size="45.94" font-weight="normal" letter-spacing="1.535">0mg</text>
<text transform="translate(1065.40,1632) scale(0.5929,1)" font-size="45.94" font-weight="normal" letter-spacing="1.518">0%</text>
<text transform="translate(1066.30,1632) scale(0.5929,1)" font-size="45.94" font-weight="normal" letter-spacing="1.518">0%</text>
<text transform="translate(1284.65,1632) scale(0.5929,1)" font-size="45.94" font-weight="normal" letter-spacing="1.518">0%</text>
<text transform="translate(1285.55,1632) scale(0.5929,1)" font-size="45.94" font-weight="normal" letter-spacing="1.518">0%</text>
<text transform="translate(921.67,1700) scale(0.5762,1)" font-size="45.94" font-weight="normal" letter-spacing="1.562">0.3mg</text>
<text transform="translate(922.57,1700) scale(0.5762,1)" font-size="45.94" font-weight="normal" letter-spacing="1.562">0.3mg</text>
<text transform="translate(1140.66,1700) scale(0.5864,1)" font-size="45.94" font-weight="normal" letter-spacing="1.535">0mg</text>
<text transform="translate(1141.56,1700) scale(0.5864,1)" font-size="45.94" font-weight="normal" letter-spacing="1.535">0mg</text>
<text transform="translate(1064.96,1700) scale(0.5996,1)" font-size="45.94" font-weight="normal" letter-spacing="1.501">2%</text>
<text transform="translate(1065.86,1700) scale(0.5996,1)" font-size="45.94" font-weight="normal" letter-spacing="1.501">2%</text>
<text transform="translate(1284.65,1700) scale(0.5929,1)" font-size="45.94" font-weight="normal" letter-spacing="1.518">0%</text>
<text transform="translate(1285.55,1700) scale(0.5929,1)" font-size="45.94" font-weight="normal" letter-spacing="1.518">0%</text>
<text transform="translate(921.66,1768) scale(0.5830,1)" font-size="45.94" font-weight="normal" letter-spacing="1.544">50mg</text>
<text transform="translate(922.56,1768) scale(0.5830,1)" font-size="45.94" font-weight="normal" letter-spacing="1.544">50mg</text>
<text transform="translate(1140.66,1768) scale(0.5864,1)" font-size="45.94" font-weight="normal" letter-spacing="1.535">0mg</text>
<text transform="translate(1141.56,1768) scale(0.5864,1)" font-size="45.94" font-weight="normal" letter-spacing="1.535">0mg</text>
<text transform="translate(1065.40,1768) scale(0.5929,1)" font-size="45.94" font-weight="normal" letter-spacing="1.518">0%</text>
<text transform="translate(1066.30,1768) scale(0.5929,1)" font-size="45.94" font-weight="normal" letter-spacing="1.518">0%</text>
<text transform="translate(1284.65,1768) scale(0.5929,1)" font-size="45.94" font-weight="normal" letter-spacing="1.518">0%</text>
<text transform="translate(1285.55,1768) scale(0.5929,1)" font-size="45.94" font-weight="normal" letter-spacing="1.518">0%</text>
</svg>
</body></html>
